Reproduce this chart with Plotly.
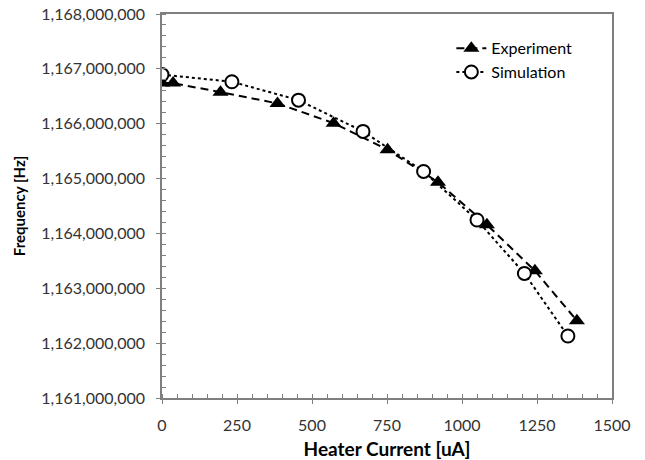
import plotly.graph_objects as go

exp_current = [0, 37, 195, 385, 572, 752, 920, 1083, 1243, 1383]
exp_freq = [1166740000, 1166740000, 1166575000, 1166370000, 1166010000, 1165525000,
            1164935000, 1164160000, 1163320000, 1162410000]

sim_current = [0, 233, 455, 670, 872, 1050, 1208, 1353]
sim_freq = [1166895000, 1166765000, 1166430000, 1165860000, 1165130000, 1164245000,
            1163270000, 1162130000]

x_ticks = [0, 250, 500, 750, 1000, 1250, 1500]
y_ticks = [1161000000, 1162000000, 1163000000, 1164000000, 1165000000,
           1166000000, 1167000000, 1168000000]

FONT = "Lato"
AX = "#7f7f7f"

fig = go.Figure()
fig.add_trace(go.Scatter(
    x=exp_current, y=exp_freq, name="Experiment", mode="lines+markers",
    line=dict(color="black", width=2, dash="8px,5px"),
    marker=dict(symbol="triangle-up", size=14, color="black"),
))
fig.add_trace(go.Scatter(
    x=sim_current, y=sim_freq, name="Simulation", mode="lines+markers",
    line=dict(color="black", width=2, dash="dot"),
    marker=dict(symbol="circle", size=13, color="white", line=dict(color="black", width=2)),
))

fig.update_layout(
    width=645, height=460,
    margin=dict(l=162, r=33, t=14, b=62),
    paper_bgcolor="white", plot_bgcolor="white",
    font=dict(family=FONT, size=16, color="#333333"),
    showlegend=True,
    legend=dict(x=0.643, y=0.955, xanchor="left", yanchor="top",
                bgcolor="rgba(0,0,0,0)", font=dict(family=FONT, size=16, color="black"),
                itemwidth=30, tracegroupgap=17),
    xaxis=dict(
        range=[0, 1500], tickvals=x_ticks, ticktext=[str(v) for v in x_ticks],
        automargin=False,
        showgrid=False, zeroline=False, showline=True, linecolor=AX, linewidth=1.5,
        mirror=True, ticks="outside", ticklen=4, tickcolor=AX, ticklabelstandoff=8,
        minor=dict(ticks="inside", ticklen=4, dtick=50, tickcolor=AX, showgrid=False),
        title=dict(text="<b>Heater Current [uA]</b>", font=dict(family=FONT, size=19, color="black"), standoff=11),
        tickfont=dict(family=FONT, size=16, color="#333333"),
    ),
    yaxis=dict(
        range=[1161000000, 1168000000], tickvals=y_ticks, tickformat=",d",
        automargin=False,
        showgrid=False, zeroline=False, showline=True, linecolor=AX, linewidth=1.5,
        mirror=True, ticks="outside", ticklen=4, tickcolor=AX, ticklabelstandoff=8,
        minor=dict(ticks="inside", ticklen=4, dtick=200000, tickcolor=AX, showgrid=False),
        title=dict(text="<b>Frequency [Hz]</b>", font=dict(family=FONT, size=15, color="black"), standoff=12),
        tickfont=dict(family=FONT, size=16, color="#333333"),
    ),
    xaxis2=dict(range=[0, 1500], tickvals=x_ticks, overlaying="x", side="bottom",
                showticklabels=False, ticks="inside", ticklen=4, tickcolor=AX, automargin=False,
                showgrid=False, zeroline=False, showline=False),
    yaxis2=dict(range=[1161000000, 1168000000], tickvals=y_ticks, overlaying="y", side="left",
                showticklabels=False, ticks="inside", ticklen=4, tickcolor=AX, automargin=False,
                showgrid=False, zeroline=False, showline=False),
)
# invisible trace to activate the overlay axes (cross ticks)
fig.add_trace(go.Scatter(x=[None], y=[None], xaxis="x2", yaxis="y2", showlegend=False, hoverinfo="skip"))

fig.write_html("out.html")
